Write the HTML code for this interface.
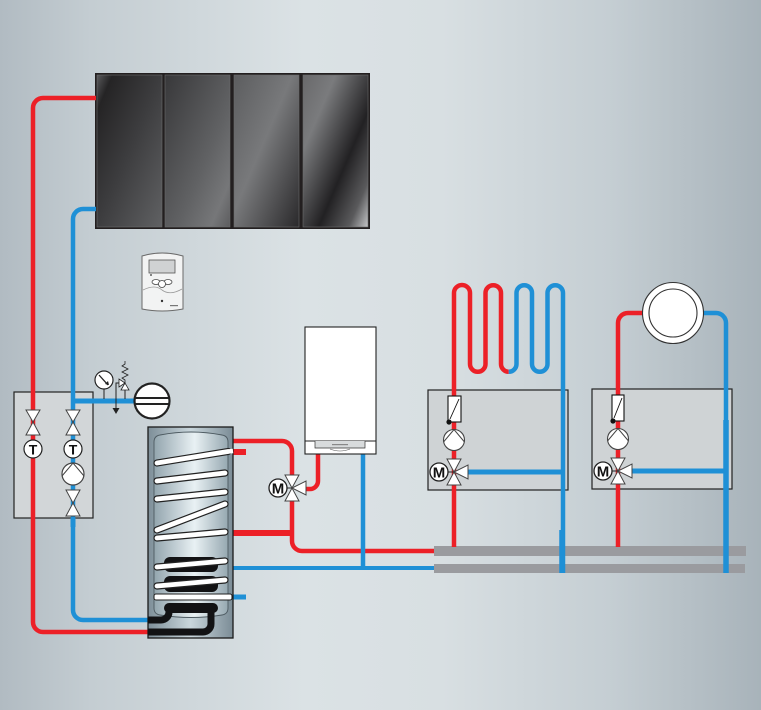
<!DOCTYPE html>
<html><head><meta charset="utf-8"><style>
html,body{margin:0;padding:0;width:761px;height:710px;overflow:hidden}
svg{display:block}
text{font-family:"Liberation Sans",sans-serif;font-weight:bold}
</style></head><body>
<svg width="761" height="710" viewBox="0 0 761 710" xmlns="http://www.w3.org/2000/svg">
<defs>
<linearGradient id="bg" x1="0" y1="0" x2="1" y2="0">
<stop offset="0" stop-color="#b1bbc2"/><stop offset="0.12" stop-color="#c4cdd2"/><stop offset="0.4" stop-color="#dbe2e5"/><stop offset="0.58" stop-color="#d8dfe2"/><stop offset="0.8" stop-color="#c5ced3"/><stop offset="1" stop-color="#a8b3ba"/>
</linearGradient>
<linearGradient id="p1" x1="0" y1="0" x2="1" y2="1"><stop offset="0" stop-color="#5a5a5c"/><stop offset="0.12" stop-color="#252425"/><stop offset="0.5" stop-color="#3d3d3f"/><stop offset="1" stop-color="#606163"/></linearGradient>
<linearGradient id="p2" x1="0" y1="0" x2="1" y2="1"><stop offset="0" stop-color="#38383a"/><stop offset="0.6" stop-color="#616264"/><stop offset="0.85" stop-color="#767779"/><stop offset="1" stop-color="#5c5c5e"/></linearGradient>
<linearGradient id="p3" x1="0" y1="0" x2="1" y2="1"><stop offset="0" stop-color="#5c5d5f"/><stop offset="0.45" stop-color="#78797b"/><stop offset="1" stop-color="#2a292b"/></linearGradient>
<linearGradient id="p4" x1="0" y1="0" x2="1" y2="1"><stop offset="0" stop-color="#69696b"/><stop offset="0.25" stop-color="#7a7b7d"/><stop offset="0.62" stop-color="#222123"/><stop offset="0.85" stop-color="#5a5a5c"/><stop offset="1" stop-color="#c4c5c7"/></linearGradient>
<linearGradient id="tk" x1="0" y1="0" x2="1" y2="0"><stop offset="0" stop-color="#7d8e98"/><stop offset="0.5" stop-color="#c9d6dc"/><stop offset="1" stop-color="#7b8c96"/></linearGradient>
<linearGradient id="tki" x1="0" y1="0" x2="1" y2="0"><stop offset="0" stop-color="#93a5ae"/><stop offset="0.55" stop-color="#e9f1f4"/><stop offset="1" stop-color="#96a8b1"/></linearGradient>
</defs>
<rect x="0" y="0" width="761" height="710" fill="url(#bg)"/>

<!-- solar collectors -->
<rect x="95" y="73" width="275" height="156" fill="#231f20"/>
<rect x="97" y="75" width="65" height="152" fill="url(#p1)" stroke="#6b6b6d" stroke-width="0.6"/>
<rect x="165" y="75" width="65" height="152" fill="url(#p2)" stroke="#6b6b6d" stroke-width="0.6"/>
<rect x="234" y="75" width="65" height="152" fill="url(#p3)" stroke="#6b6b6d" stroke-width="0.6"/>
<rect x="303" y="75" width="65" height="152" fill="url(#p4)" stroke="#6b6b6d" stroke-width="0.6"/>

<!-- controller -->
<path d="M142 256 Q162 250 183 256 L183 309 Q162 313 142 309 Z" fill="#f2f3f3" stroke="#6a6a6a" stroke-width="1"/>
<rect x="149" y="260" width="26" height="13" fill="#d0d2d3" stroke="#555" stroke-width="0.8"/>
<path d="M143 290 Q155 284 162 290 Q170 296 182 289" fill="none" stroke="#999" stroke-width="0.8"/>
<ellipse cx="156" cy="282" rx="4" ry="2.5" fill="#fff" stroke="#444" stroke-width="0.8"/>
<ellipse cx="168" cy="282" rx="4" ry="2.5" fill="#fff" stroke="#444" stroke-width="0.8"/>
<circle cx="162" cy="284" r="3.5" fill="#fff" stroke="#444" stroke-width="0.8"/>
<circle cx="162" cy="301" r="1.2" fill="#333"/>
<circle cx="151" cy="275" r="0.9" fill="#333"/>
<rect x="170" y="305" width="8" height="1.2" fill="#777"/>

<!-- left station box -->
<rect x="14" y="392" width="79" height="126" fill="#d2d6d8" stroke="#222" stroke-width="1.2"/>

<!-- circuit boxes -->
<rect x="428" y="390" width="140" height="100" fill="#cfd3d5" stroke="#222" stroke-width="1.2"/>
<rect x="592" y="389" width="140" height="100" fill="#cfd3d5" stroke="#222" stroke-width="1.2"/>

<!-- solar loop pipes -->
<path d="M148 632 H43 A10 10 0 0 1 33 622 V108 A10 10 0 0 1 43 98 H96" fill="none" stroke="#ec2027" stroke-width="4.5"/>
<path d="M148 620 H83 A10 10 0 0 1 73 610 V219 A10 10 0 0 1 83 209 H96" fill="none" stroke="#1f90d6" stroke-width="4.5"/>
<rect x="70.5" y="518" width="5" height="9" fill="#1f90d6"/>
<line x1="73" y1="401" x2="135" y2="401" stroke="#1f90d6" stroke-width="5"/>

<!-- gauge, relief, drain -->
<line x1="104" y1="389" x2="104" y2="399" stroke="#222" stroke-width="1"/>
<circle cx="104" cy="380" r="9" fill="#fff" stroke="#222" stroke-width="1.2"/>
<line x1="99" y1="375" x2="108" y2="385" stroke="#222" stroke-width="1.3"/>
<polygon points="109,385 105,384 108,381" fill="#222"/>
<polyline points="120,383 116,383 116,409" fill="none" stroke="#222" stroke-width="1"/>
<polygon points="112.5,408 119.5,408 116,414" fill="#222"/>
<polygon points="119,379 119,387 125,383" fill="#fff" stroke="#222" stroke-width="0.8"/>
<polygon points="121,390 129,390 125,383" fill="#fff" stroke="#222" stroke-width="0.8"/>
<line x1="125" y1="390" x2="125" y2="399" stroke="#222" stroke-width="1"/>
<polyline points="125,383 125,380 122,378 128,375 122,372 128,369 122,366 125,364 125,361" fill="none" stroke="#222" stroke-width="0.8"/>
<!-- expansion vessel -->
<circle cx="152" cy="401" r="17.5" fill="#fff" stroke="#222" stroke-width="2.2"/>
<line x1="135" y1="398" x2="169" y2="398" stroke="#222" stroke-width="2"/>
<line x1="135" y1="404" x2="169" y2="404" stroke="#222" stroke-width="2"/>

<!-- left station symbols -->
<g fill="#fff" stroke="#444" stroke-width="1">
<polygon points="26,410 40,410 33,422"/><polygon points="26,435 40,435 33,422"/>
<polygon points="66,410 80,410 73,422"/><polygon points="66,435 80,435 73,422"/>
<polygon points="66,490 80,490 73,503"/><polygon points="66,516 80,516 73,503"/>
</g>
<circle cx="33" cy="449" r="9" fill="#fff" stroke="#222" stroke-width="1.2"/>
<text x="33" y="454.5" font-size="14" text-anchor="middle" fill="#111">T</text>
<circle cx="73" cy="449" r="9" fill="#fff" stroke="#222" stroke-width="1.2"/>
<text x="73" y="454.5" font-size="14" text-anchor="middle" fill="#111">T</text>
<circle cx="73" cy="474" r="11" fill="#fff" stroke="#444" stroke-width="1.2"/>
<polyline points="62,476 73,463 84,476" fill="none" stroke="#444" stroke-width="1"/>

<!-- tank piping right -->
<path d="M233 441 H282 A10 10 0 0 1 292 451 V476" fill="none" stroke="#ec2027" stroke-width="4.5"/>
<path d="M292 500 V541 A10 10 0 0 0 302 551 H436" fill="none" stroke="#ec2027" stroke-width="4.5"/>
<line x1="233" y1="533" x2="292" y2="533" stroke="#ec2027" stroke-width="6"/>
<line x1="233" y1="452" x2="246" y2="452" stroke="#ec2027" stroke-width="6"/>
<line x1="233" y1="597" x2="246" y2="597" stroke="#1f90d6" stroke-width="5"/>
<line x1="233" y1="568" x2="436" y2="568" stroke="#1f90d6" stroke-width="4"/>
<!-- boiler connections -->
<path d="M318 454 V481 A8 8 0 0 1 310 489 H304" fill="none" stroke="#ec2027" stroke-width="4.5"/>
<line x1="363" y1="454" x2="363" y2="568" stroke="#1f90d6" stroke-width="4.5"/>

<!-- boiler -->
<rect x="305" y="327" width="71" height="127" fill="#fff" stroke="#222" stroke-width="1.1"/>
<line x1="305" y1="441" x2="376" y2="441" stroke="#222" stroke-width="0.9"/>
<path d="M315 441 V448 H365 V441" fill="#d8dbdc" stroke="#333" stroke-width="0.7"/>
<path d="M330 449 Q340 453 350 449" fill="none" stroke="#555" stroke-width="0.6"/>
<rect x="332" y="444" width="16" height="1.2" fill="#888"/>

<!-- tank 3-way valve -->
<line x1="278" y1="488" x2="292" y2="488" stroke="#222" stroke-width="1"/>
<g fill="#fff" stroke="#444" stroke-width="1">
<polygon points="285,475 299,475 292,488"/><polygon points="285,501 299,501 292,488"/><polygon points="306,481 306,495 292,488"/>
</g>
<circle cx="278" cy="488" r="9" fill="#fff" stroke="#222" stroke-width="1.3"/>
<text x="278" y="493.5" font-size="15" text-anchor="middle" fill="#111">M</text>

<!-- tank -->
<rect x="148" y="427" width="85" height="211" fill="url(#tk)" stroke="#1a1a1a" stroke-width="1.3"/>
<path d="M154 442 Q154 436 160 435 Q191 429 222 435 Q228 436 228 442 V608 Q228 614 222 615 Q191 620 160 615 Q154 614 154 608 Z" fill="url(#tki)" stroke="#4d5a61" stroke-width="0.9"/>
<!-- black solar coil -->
<g fill="#121214">
<rect x="164" y="557" width="54" height="15" rx="6"/>
<rect x="164" y="576" width="54" height="16" rx="6"/>
<rect x="164" y="603" width="54" height="10" rx="5"/>
</g>
<path d="M169 608 V612 A8 8 0 0 1 161 620 H148" fill="none" stroke="#121214" stroke-width="7"/>
<path d="M211 608 V624 A8 8 0 0 1 203 632 H148" fill="none" stroke="#121214" stroke-width="7"/>
<!-- white coils -->
<g stroke-linecap="round" fill="none">
<g stroke="#222" stroke-width="7.2">
<line x1="157" y1="463" x2="228" y2="451.5"/>
<line x1="157" y1="481" x2="225" y2="473"/>
<line x1="157" y1="499" x2="225" y2="492"/>
<line x1="157" y1="530" x2="225" y2="504"/>
<line x1="157" y1="538" x2="225" y2="532"/>
<line x1="157" y1="567" x2="225" y2="561"/>
<line x1="157" y1="586" x2="225" y2="580"/>
</g>
<g stroke="#fff" stroke-width="4.8">
<line x1="157" y1="463" x2="228" y2="451.5"/>
<line x1="157" y1="481" x2="225" y2="473"/>
<line x1="157" y1="499" x2="225" y2="492"/>
<line x1="157" y1="530" x2="225" y2="504"/>
<line x1="157" y1="538" x2="225" y2="532"/>
<line x1="157" y1="567" x2="225" y2="561"/>
<line x1="157" y1="586" x2="225" y2="580"/>
</g>
</g>
<line x1="228" y1="451.5" x2="233" y2="451" stroke="#fff" stroke-width="4.6"/>
<rect x="154" y="594" width="78" height="6" rx="2" fill="#fff" stroke="#222" stroke-width="1.1"/>

<!-- manifolds -->
<rect x="434" y="546" width="312" height="10" fill="#9a9b9f"/>
<rect x="434" y="564" width="311" height="9" fill="#9a9b9f"/>

<!-- floor heating circuit -->
<path d="M454 547 V293 A8 8 0 0 1 470 293 V364 A7.75 7.75 0 0 0 485.5 364 V293 A7.75 7.75 0 0 1 501 293 V364 A7.75 7.75 0 0 0 508.75 371.75" fill="none" stroke="#ec2027" stroke-width="4.5"/>
<path d="M508.75 371.75 A7.75 7.75 0 0 0 516.5 364 V293 A7.75 7.75 0 0 1 532 293 V364 A7.75 7.75 0 0 0 547.5 364 V293 A7.75 7.75 0 0 1 563 293 V573" fill="none" stroke="#1f90d6" stroke-width="4.5"/>
<line x1="468" y1="472" x2="563" y2="472" stroke="#1f90d6" stroke-width="5"/>
<line x1="562" y1="530" x2="562" y2="573" stroke="#1f90d6" stroke-width="5.5"/>

<!-- radiator circuit -->
<path d="M618 547 V323 A10 10 0 0 1 628 313 H643" fill="none" stroke="#ec2027" stroke-width="4.5"/>
<path d="M703 313 H716 A10 10 0 0 1 726 323 V573" fill="none" stroke="#1f90d6" stroke-width="4.5"/>
<line x1="726" y1="420" x2="726" y2="573" stroke="#1f90d6" stroke-width="5.5"/>
<line x1="632" y1="471" x2="727" y2="471" stroke="#1f90d6" stroke-width="5"/>
<circle cx="673" cy="313" r="30.5" fill="#fff" stroke="#333" stroke-width="1.1"/>
<circle cx="673" cy="313" r="24" fill="#fff" stroke="#333" stroke-width="1.1"/>

<!-- circuit 1 symbols -->
<rect x="448" y="396" width="13" height="26" fill="#fff" stroke="#111" stroke-width="1.1"/>
<line x1="450" y1="419" x2="459" y2="399" stroke="#111" stroke-width="0.9"/>
<circle cx="449" cy="422" r="2.6" fill="#111"/>
<circle cx="454" cy="440" r="10.5" fill="#fff" stroke="#444" stroke-width="1.1"/>
<polyline points="443.5,442 454,429.5 464.5,442" fill="none" stroke="#444" stroke-width="1"/>
<line x1="439" y1="472" x2="454" y2="472" stroke="#222" stroke-width="1"/>
<g fill="#fff" stroke="#444" stroke-width="1">
<polygon points="447,459 461,459 454,472"/><polygon points="447,485 461,485 454,472"/><polygon points="468,465 468,479 454,472"/>
</g>
<circle cx="439" cy="472" r="9" fill="#fff" stroke="#222" stroke-width="1.3"/>
<text x="439" y="477.5" font-size="15" text-anchor="middle" fill="#111">M</text>

<!-- circuit 2 symbols -->
<rect x="612" y="395" width="12" height="26" fill="#fff" stroke="#111" stroke-width="1.1"/>
<line x1="614" y1="418" x2="622" y2="398" stroke="#111" stroke-width="0.9"/>
<circle cx="613" cy="421" r="2.6" fill="#111"/>
<circle cx="618" cy="439" r="10.5" fill="#fff" stroke="#444" stroke-width="1.1"/>
<polyline points="607.5,441 618,428.5 628.5,441" fill="none" stroke="#444" stroke-width="1"/>
<line x1="603" y1="471" x2="618" y2="471" stroke="#222" stroke-width="1"/>
<g fill="#fff" stroke="#444" stroke-width="1">
<polygon points="611,458 625,458 618,471"/><polygon points="611,484 625,484 618,471"/><polygon points="632,464 632,478 618,471"/>
</g>
<circle cx="603" cy="471" r="9" fill="#fff" stroke="#222" stroke-width="1.3"/>
<text x="603" y="476.5" font-size="15" text-anchor="middle" fill="#111">M</text>
</svg>
</body></html>
